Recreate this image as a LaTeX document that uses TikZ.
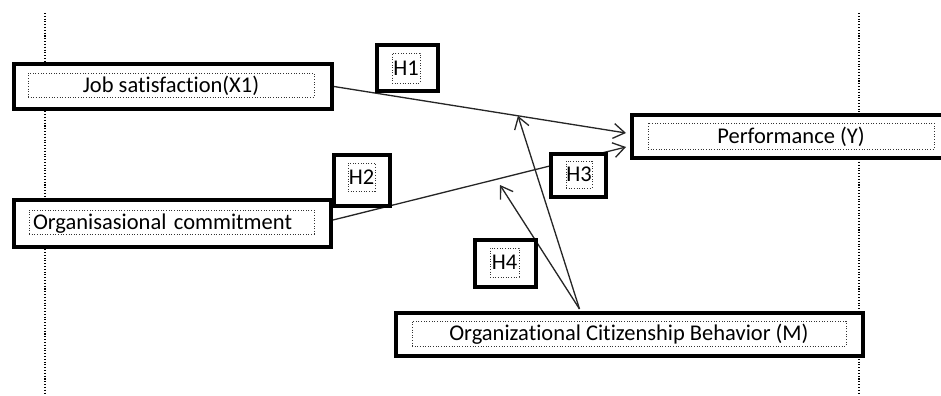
\documentclass[tikz,border=0pt]{standalone}
\usepackage{fontspec}
\setmainfont[Ligatures=NoCommon]{Carlito}
\usepackage{tikz}
\usetikzlibrary{arrows.meta}
\usetikzlibrary{calc}
\usetikzlibrary{backgrounds}

\tikzset{
  frame/.style={draw=black, line width=2.3pt, fill=white, inner sep=0pt},
  dotbox/.style={draw=black!80, densely dotted, line width=0.5pt, inner sep=0pt,
    text height=8.2pt, text depth=0pt, font=\fontsize{12.8}{14}\selectfont},
  link/.style={draw=black!85, line width=0.75pt, -{Straight Barb[length=6.5pt,width=8.5pt]}},
  guide/.style={draw=black, densely dotted, line width=0.6pt}
}

\begin{document}
\begin{tikzpicture}[x=0.02cm, y=-0.02cm]

\useasboundingbox (0,0) rectangle (941,396);

% variables
\node[frame, minimum width=6.36cm, minimum height=0.90cm] (job) at (173,86.5) {};
\node[dotbox, minimum width=5.72cm, minimum height=0.48cm] (jobtxt) at (171,85) {Job satisfaction(X1)};

\node[frame, minimum width=6.34cm, minimum height=0.94cm] (org) at (172.5,223.5) {};
\node[dotbox, minimum width=5.70cm, minimum height=0.48cm, inner xsep=0.08cm, text width=5.54cm, align=left] (orgtxt) at (171.5,222) {Organisasional commitment};

\node[frame, minimum width=6.36cm, minimum height=0.86cm] (perf) at (791,136.5) {};
\node[dotbox, minimum width=5.72cm, minimum height=0.52cm] (perftxt) at (791,136) {Performance (Y)};

\node[frame, minimum width=9.34cm, minimum height=0.86cm] (ocb) at (629.5,334.5) {};
\node[dotbox, minimum width=8.68cm, minimum height=0.50cm] (ocbtxt) at (629,333.5) {Organizational Citizenship Behavior (M)};

% hypotheses
\node[frame, minimum width=1.22cm, minimum height=0.92cm] (h1) at (407.5,68) {};
\node[dotbox, minimum width=0.56cm, minimum height=0.60cm] (h1txt) at (406,68) {H1};

\node[frame, minimum width=1.12cm, minimum height=1.02cm] (h2) at (362,180.5) {};
\node[dotbox, minimum width=0.54cm, minimum height=0.56cm] (h2txt) at (361.5,177) {H2};

\node[frame, minimum width=1.10cm, minimum height=0.86cm] (h3) at (578.5,175.5) {};
\node[dotbox, minimum width=0.52cm, minimum height=0.54cm] (h3txt) at (579,174.5) {H3};

\node[frame, minimum width=1.22cm, minimum height=0.94cm] (h4) at (505.5,263.5) {};
\node[dotbox, minimum width=0.58cm, minimum height=0.58cm] (h4txt) at (504.5,262.5) {H4};

\begin{pgfonlayer}{background}
% dotted guides
\coordinate (gl1) at (45,13);
\coordinate (gl2) at (45,393);
\coordinate (gr1) at (859,13);
\coordinate (gr2) at (859,395);
\draw[guide] (gl1) -- (gl2);
\draw[guide] (gr1) -- (gr2);

% paths
\draw[link] (job.east) -- coordinate[pos=0.63] (hit1) ($(perf.west)+(-4,-3.5)$);
\draw[link] ($(org.east)+(0,-3.5)$) -- ($(perf.west)+(-4,10.5)$);

\coordinate (ocbtop) at ($(ocb.north)+(-50,-2)$);
\coordinate (hit2) at (500,185);
\draw[link] (ocbtop) -- (hit1);
\draw[link] (ocbtop) -- (hit2);
\end{pgfonlayer}

\end{tikzpicture}
\end{document}
